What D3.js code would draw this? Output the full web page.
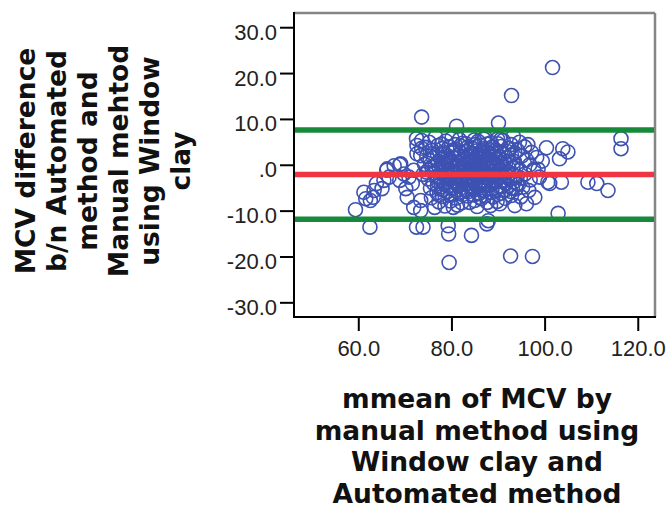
<html>
  <head>
    <meta charset="utf-8">
    <script src="https://cdn.jsdelivr.net/npm/d3@7/dist/d3.min.js"></script>
    <style>
      body {
        margin: 0px;
        background: #fff;
      }
      .axis .domain {
        display: none;
      }
      .axis .tick line {
        stroke: #000;
        stroke-width: 2px;
      }
      .axis .tick text {
        font-family: "Liberation Sans", Arial, sans-serif;
        font-size: 22px;
        fill: #222;
      }
      .title text {
        font-family: "DejaVu Sans", sans-serif;
        font-weight: bold;
        font-size: 26.5px;
        fill: #111;
      }
    </style>
  </head>
  <body>
    <svg width="667" height="508"></svg>
    <script>
      var xTicks = [60, 80, 100, 120];
      var yTicks = [30, 20, 10, 0, -10, -20, -30];

      // mean difference and limits of agreement
      var meanDiff = -2.1;
      var upperLimit = 7.6;
      var lowerLimit = -11.9;

      var xTitle = ['mmean of MCV by', 'manual method using', 'Window clay and', 'Automated method'];
      var yTitle = ['MCV difference', 'b/n Automated', 'method and', 'Manual mehtod', 'using Window', 'clay'];

      // [mean, difference]
      var edgePoints = [
        [101.7, 21.2], [92.9, 15.1], [73.6, 10.4], [81.1, 8.4], [90.1, 9.1],
        [73.6, 5.3], [73.6, 3.6], [73.4, 2.0], [72.6, 4.2], [72.6, 2.4], [72.5, 5.7],
        [96.4, 4.4], [100.4, 3.7], [103.9, 3.5], [105.0, 2.8], [103.2, 1.3],
        [116.4, 5.7], [116.4, 3.5],
        [101.1, -4.1], [103.6, -3.8], [109.3, -3.8], [111.2, -4.1], [113.6, -5.6],
        [102.9, -10.6], [97.4, -20.0], [92.7, -19.9], [79.5, -21.3],
        [79.4, -15.1], [84.3, -15.4], [79.3, -13.3], [87.6, -12.9], [87.9, -12.2], [73.9, -13.6],
        [59.4, -9.8], [62.5, -13.6], [72.5, -13.6],
        [61.2, -6.0], [61.6, -7.4], [63.2, -7.1], [62.6, -7.8], [63.4, -5.6],
        [63.9, -4.1], [65.1, -5.2], [65.5, -3.4], [66.6, -2.7], [66.2, -0.9], [66.1, -1.2],
        [67.7, -0.2], [69.1, 0.2], [68.9, 0.0], [68.9, -3.4], [69.8, -2.0], [70.9, -2.7],
        [70.2, -5.2], [70.5, -7.1], [71.9, -9.3], [71.9, -1.2], [71.6, -4.1],
        [73.4, -7.8], [73.4, -10.0],
        [93.6, -8.9], [96.1, -8.5], [97.9, -7.1], [93.9, -5.2], [96.6, -5.6], [98.9, -2.7],
        [86.4, -7.4], [90.4, -8.5], [76.4, -9.3], [92.9, -6.7], [83.9, -8.2], [80.4, -9.3],
        [98.6, -1.0], [99.5, 0.8], [100.7, -3.8]
      ];

      var corePoints = [
        [76.6, 6.1], [80.1, 5.8], [83.8, 6.4], [87.2, 6.0], [89.9, 5.6], [93.3, 6.2],
        [75.2, 4.9], [78.8, 5.2], [82.4, 4.7], [85.7, 5.1], [88.5, 4.8], [91.1, 5.3], [94.6, 4.9],
        [74.4, 3.8], [77.1, 4.2], [79.5, 3.9], [81.9, 4.1], [84.3, 3.7], [86.2, 4.3], [88.8, 3.9], [90.6, 4.0], [92.4, 3.6], [95.7, 3.9],
        [75.9, 3.1], [78.2, 2.8], [80.4, 3.2], [83.0, 2.9], [85.3, 3.0], [87.5, 2.7], [89.5, 3.2], [92.0, 2.9], [94.2, 3.1], [97.2, 2.7],
        [74.7, 1.9], [77.0, 2.2], [79.3, 1.8], [81.4, 2.1], [83.7, 1.7], [85.8, 2.2], [87.1, 1.9], [88.3, 2.3], [90.2, 1.8], [92.9, 2.1], [95.1, 1.9], [98.3, 1.6],
        [75.4, 0.9], [77.7, 1.2], [80.1, 0.8], [82.3, 1.1], [84.7, 0.9], [86.4, 1.2], [88.6, 0.8], [91.2, 1.0], [93.5, 0.7], [96.1, 1.1],
        [74.2, 0.1], [76.5, -0.2], [78.7, 0.2], [81.0, -0.1], [83.1, 0.3], [84.9, -0.2], [86.9, 0.1], [89.1, -0.1], [91.6, 0.2], [94.0, -0.3], [96.8, 0.0],
        [75.1, -1.1], [77.4, -0.8], [79.9, -1.2], [82.1, -0.9], [84.2, -1.0], [86.1, -1.3], [88.1, -0.9], [90.1, -1.1], [92.3, -0.8], [94.7, -1.2], [97.7, -1.0],
        [73.9, -2.1], [76.2, -1.8], [78.5, -2.2], [80.7, -1.9], [82.8, -2.3], [84.7, -1.9], [87.0, -2.1], [89.1, -2.4], [91.4, -1.8], [93.4, -2.2], [95.8, -2.0],
        [75.0, -3.1], [77.6, -2.8], [79.8, -3.2], [81.8, -2.9], [84.0, -3.3], [85.6, -2.8], [87.9, -3.1], [90.2, -2.9], [92.5, -3.2], [94.8, -2.9], [96.9, -3.3],
        [76.1, -4.0], [78.4, -4.2], [80.8, -3.9], [82.9, -4.3], [85.2, -4.0], [87.3, -4.2], [89.5, -3.8], [91.7, -4.1], [94.4, -4.3],
        [75.5, -5.1], [77.8, -4.8], [80.3, -5.2], [82.5, -4.9], [84.6, -5.3], [86.7, -5.0], [88.7, -5.2], [90.9, -4.8], [93.1, -5.1], [95.3, -4.9],
        [76.9, -6.1], [79.2, -5.8], [81.6, -6.2], [83.6, -5.9], [85.9, -6.3], [88.2, -6.0], [90.6, -6.2], [92.7, -5.8],
        [75.7, -7.2], [78.1, -6.9], [81.0, -7.3], [83.4, -6.8], [86.1, -7.1], [88.9, -7.0], [91.5, -7.3], [94.9, -7.0],
        [77.3, -8.1], [79.8, -7.9], [82.2, -8.3], [85.0, -7.8], [87.7, -8.2], [89.8, -8.0],
        [78.6, -9.0], [81.3, -8.8], [85.5, -9.1], [88.4, -8.9],
        [78.0, 3.5], [80.9, 3.4], [83.2, 3.6], [86.8, 3.5], [89.0, 2.5], [82.0, 2.6], [84.5, 2.4], [86.6, 2.7],
        [80.6, 1.5], [83.3, 1.3], [85.4, 1.6], [87.8, 1.4], [89.8, 1.3], [79.6, 0.5], [81.8, 0.4], [84.0, 0.6],
        [86.0, 0.4], [88.0, 0.5], [90.4, 0.4], [80.3, -0.5], [82.6, -0.4], [85.5, -0.6], [87.5, -0.5], [89.6, -0.4],
        [79.1, -1.5], [81.3, -1.4], [83.5, -1.6], [85.9, -1.5], [88.4, -1.6], [90.8, -1.4], [80.0, -2.6], [82.2, -2.5],
        [84.4, -2.7], [86.3, -2.4], [88.6, -2.6], [81.2, -3.6], [83.3, -3.5], [86.0, -3.7], [88.3, -3.5], [90.6, -3.6],
        [84.1, -4.6], [86.3, -4.5], [81.5, -4.5]
      ];

      // densest centre of the cloud
      var centrePoints = [
        [81.7, 5.5], [84.9, 5.4], [87.0, 5.6], [90.6, 5.5],
        [77.9, 4.5], [80.8, 4.4], [83.1, 4.6], [85.0, 4.4], [87.7, 4.5], [90.0, 4.6], [92.8, 4.4],
        [76.0, 2.5], [78.3, 2.4], [80.1, 2.6], [87.9, 2.5], [91.0, 2.4], [93.6, 2.6],
        [76.1, 1.6], [78.5, 1.5], [82.7, 1.7], [84.1, 1.6], [86.9, 1.5], [89.2, 1.7], [91.8, 1.6],
        [77.2, 0.6], [79.0, 0.7], [83.5, 0.5], [85.2, 0.6], [87.0, 0.7], [89.0, 0.5], [92.4, 0.6],
        [75.8, -0.5], [78.1, -0.6], [81.2, -0.4], [84.0, -0.5], [86.4, -0.6], [88.7, -0.5], [91.0, -0.4], [93.2, -0.6],
        [74.6, -1.6], [77.9, -1.5], [80.2, -1.7], [82.5, -1.6], [84.8, -1.5], [87.2, -1.6], [89.9, -1.7], [92.1, -1.5],
        [76.7, -2.6], [78.9, -2.5], [81.1, -2.7], [83.5, -2.6], [85.3, -2.5], [87.4, -2.7], [89.8, -2.6], [92.0, -2.5], [94.1, -2.6],
        [77.0, -3.6], [79.2, -3.7], [82.1, -3.5], [84.7, -3.6], [87.0, -3.7], [89.2, -3.5], [91.2, -3.6], [93.5, -3.7],
        [77.0, -4.6], [79.6, -4.5], [83.7, -4.7], [85.8, -4.6], [88.1, -4.5], [90.2, -4.7], [92.3, -4.6],
        [78.2, -5.5], [80.9, -5.6], [82.9, -5.4], [84.9, -5.5], [87.0, -5.6], [89.5, -5.4], [91.6, -5.5],
        [77.4, -6.6], [79.8, -6.7], [82.4, -6.5], [84.8, -6.6], [87.3, -6.7], [89.9, -6.5]
      ];

      var points = edgePoints.concat(corePoints, centrePoints);

      var svg = d3.select('svg');
      var plot = { left: 294, right: 655, top: 13, bottom: 317 };

      var xScale = d3.scaleLinear().domain([46.2, 123.7]).range([plot.left, plot.right]);
      var yScale = d3.scaleLinear().domain([-33.2, 33.1]).range([plot.bottom, plot.top]);

      // SPSS style labels: ".0", "-10.0"
      var fmt = function (d) {
        var s = Math.abs(d).toFixed(1);
        if (s === '0.0') return '.0';
        return (d < 0 ? '-' : '') + s;
      };

      var yAxis = d3.axisLeft(yScale).tickValues(yTicks).tickSize(14).tickPadding(3).tickFormat(fmt);
      var xAxis = d3.axisBottom(xScale).tickValues(xTicks).tickSize(14).tickPadding(9).tickFormat(fmt);

      svg.append('g')
          .attr('class', 'axis')
          .attr('transform', `translate(${plot.left},0)`)
          .call(yAxis)
        .selectAll('text')
          .attr('dy', '12px');

      svg.append('g')
          .attr('class', 'axis')
          .attr('transform', `translate(0,${plot.bottom})`)
          .call(xAxis);

      // frame: gray top/right, black axes
      svg.append('line')
          .attr('x1', plot.left).attr('x2', plot.right)
          .attr('y1', plot.top).attr('y2', plot.top)
          .attr('stroke', '#858585').attr('stroke-width', 2.5);
      svg.append('line')
          .attr('x1', plot.right).attr('x2', plot.right)
          .attr('y1', plot.top).attr('y2', plot.bottom)
          .attr('stroke', '#858585').attr('stroke-width', 2.5);
      svg.append('line')
          .attr('x1', plot.left).attr('x2', plot.left)
          .attr('y1', plot.top - 1).attr('y2', plot.bottom + 1)
          .attr('stroke', '#000').attr('stroke-width', 2);
      svg.append('line')
          .attr('x1', plot.left).attr('x2', plot.right + 1)
          .attr('y1', plot.bottom).attr('y2', plot.bottom)
          .attr('stroke', '#000').attr('stroke-width', 2);

      svg.append('g').selectAll('circle')
        .data(points)
        .enter().append('circle')
          .attr('cx', d => xScale(d[0]))
          .attr('cy', d => yScale(d[1]))
          .attr('r', 7)
          .attr('fill', 'none')
          .attr('stroke', '#3d52b2')
          .attr('stroke-width', 1.6);

      var refLines = [
        { value: upperLimit, color: '#17893b' },
        { value: meanDiff, color: '#ee3541' },
        { value: lowerLimit, color: '#17893b' }
      ];
      svg.append('g').selectAll('line')
        .data(refLines)
        .enter().append('line')
          .attr('x1', plot.left + 1).attr('x2', plot.right - 1)
          .attr('y1', d => yScale(d.value)).attr('y2', d => yScale(d.value))
          .attr('stroke', d => d.color)
          .attr('stroke-width', 5.5);

      var xt = svg.append('g').attr('class', 'title');
      xt.selectAll('text')
        .data(xTitle)
        .enter().append('text')
          .attr('text-anchor', 'middle')
          .attr('transform', (d, i) => `translate(477,${408 + i * 31.5})`)
          .text(d => d);

      var yt = svg.append('g').attr('class', 'title');
      yt.selectAll('text')
        .data(yTitle)
        .enter().append('text')
          .attr('text-anchor', 'middle')
          .attr('transform', (d, i) => `translate(${35 + i * 31},161) rotate(-90)`)
          .text(d => d);
    </script>
  </body>
</html>
